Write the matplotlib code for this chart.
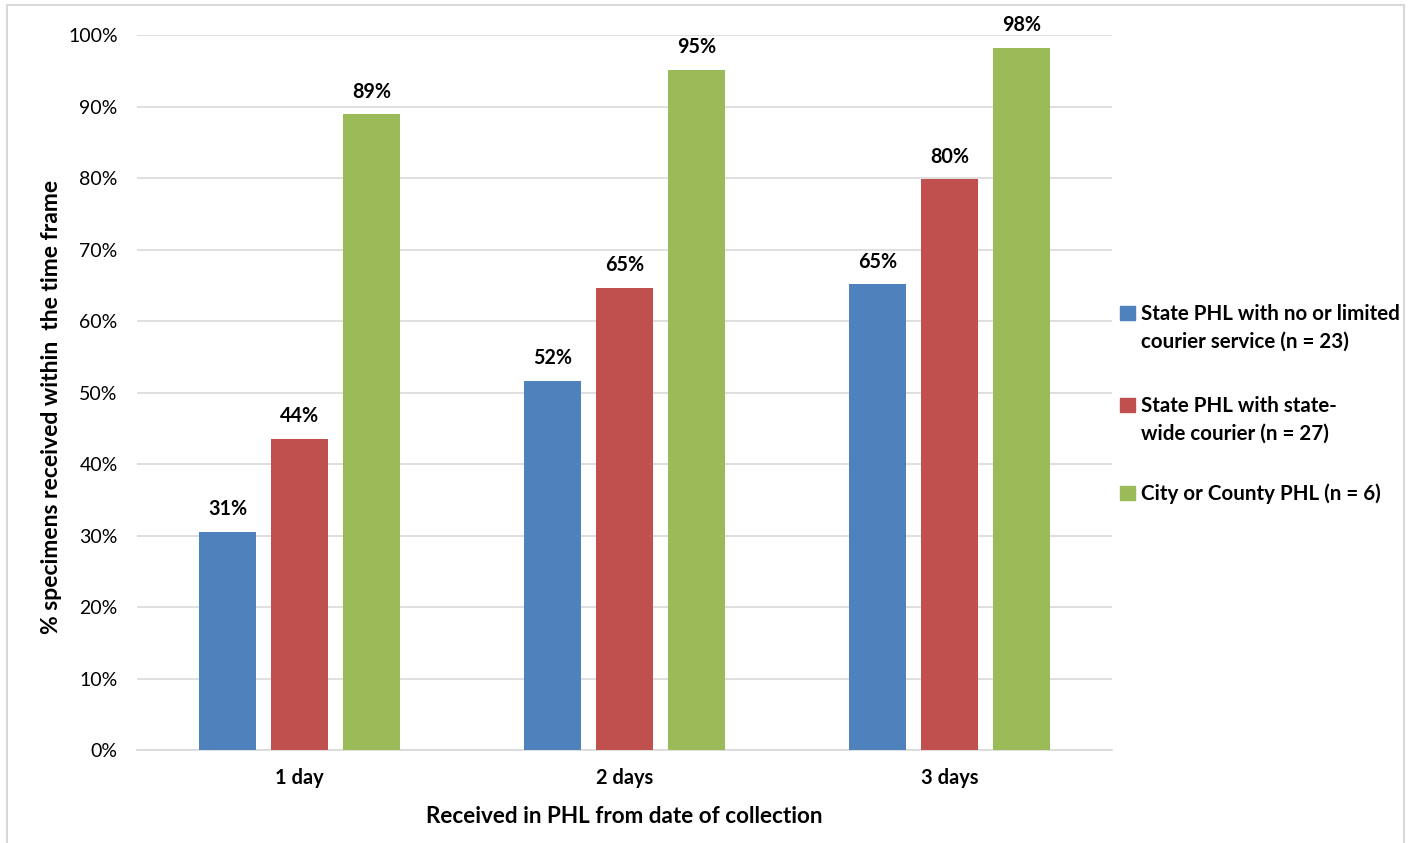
import numpy as np
import matplotlib.pyplot as plt
from matplotlib.patches import Rectangle

plt.rcParams['font.family'] = ['Lato', 'DejaVu Sans']

days = ['1 day', '2 days', '3 days']
series = [
    'State PHL with no or limited\ncourier service (n = 23)',
    'State PHL with state-\nwide courier (n = 27)',
    'City or County PHL (n = 6)',
]
no_courier = [30.6, 51.7, 65.2]
statewide = [43.6, 64.7, 79.9]
city_county = [89.0, 95.2, 98.3]
colors = ['#4F81BD', '#C0504D', '#9BBB59']

W, H = 1413, 843
fig = plt.figure(figsize=(W / 100, H / 100), dpi=100)
ax = fig.add_axes([0.097, 0.110, 0.690, 0.848])

x = np.arange(len(days))
width = 0.175
step = 0.2215
for i, (vals, name, col) in enumerate(zip([no_courier, statewide, city_county], series, colors)):
    bars = ax.bar(x + (i - 1) * step, vals, width, color=col, zorder=3)
    for b, v in zip(bars, vals):
        ax.annotate('%.0f%%' % v, (b.get_x() + b.get_width() / 2, v),
                    xytext=(0, 9), textcoords='offset points',
                    ha='center', va='bottom', fontsize=14.2, fontweight='bold')

ax.set_xlim(-0.5, 2.5)
ax.set_ylim(0, 100)
ax.set_yticks(np.arange(0, 101, 10))
ax.set_yticklabels(['%d%%' % t for t in range(0, 101, 10)], fontsize=14)
ax.set_xticks(x)
ax.set_xticklabels(days, fontsize=14.4, fontweight='bold')
ax.tick_params(axis='x', length=0, pad=13)
ax.tick_params(axis='y', length=0, pad=14)
ax.grid(axis='y', color='#D9D9D9', linewidth=1.2, zorder=0)
for s in ['top', 'right', 'left']:
    ax.spines[s].set_visible(False)
ax.spines['bottom'].set_color('#D9D9D9')
ax.spines['bottom'].set_linewidth(1.2)

ax.set_xlabel('Received in PHL from date of collection', fontsize=16.2, fontweight='bold', labelpad=13)
ax.set_ylabel('% specimens received within  the time frame', fontsize=16.5, fontweight='bold')
ax.yaxis.set_label_coords(-0.077, 0.48)

# legend: square key beside the first line of each label, lines drawn one by one
first_base = [320, 412, 500]
line_step = 28
for name, col, base in zip(series, colors, first_base):
    fig.patches.append(Rectangle((1120 / W, 1 - base / H), 15 / W, 14 / H,
                                 transform=fig.transFigure, color=col))
    for k, line in enumerate(name.split('\n')):
        fig.text(1141 / W, 1 - (base + k * line_step) / H, line, fontsize=14.8,
                 fontweight='bold', va='baseline', ha='left')

# light outer frame
fig.patches.append(Rectangle((7 / W, -0.01), 1397 / W, 1.01 - 5 / H,
                             transform=fig.transFigure, fill=False,
                             edgecolor='#D9D9D9', linewidth=1.5))

fig.savefig('out.png', dpi=100)
